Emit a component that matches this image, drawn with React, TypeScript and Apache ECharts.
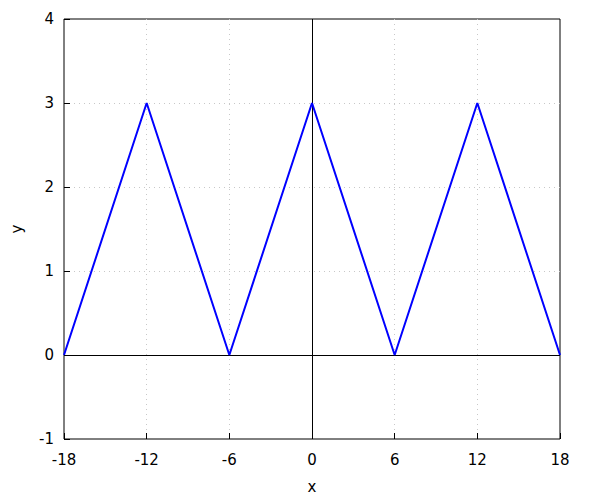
import React, { useEffect, useRef } from "react";
import * as echarts from "echarts";

const xValues = [-18, -12, -6, 0, 6, 12, 18];
const yValues = [0, 3, 0, 3, 0, 3, 0];
const xTicks = [-18, -12, -6, 0, 6, 12, 18];
const yTicks = [-1, 0, 1, 2, 3, 4];

export default function App() {
  const ref = useRef<HTMLDivElement>(null);
  useEffect(() => {
    if (!ref.current) return;
    const chart = echarts.init(ref.current, undefined, { renderer: "svg" });
    const font = "DejaVu Sans";
    chart.setOption({
      animation: false,
      backgroundColor: "#ffffff",
      grid: {
        left: 64,
        right: 40,
        top: 19,
        bottom: 61,
        show: true,
        borderColor: "#000000",
        borderWidth: 1,
        backgroundColor: "transparent",
      },
      xAxis: {
        type: "value",
        min: -18,
        max: 18,
        interval: 6,
        name: "x",
        nameLocation: "middle",
        nameGap: 40,
        nameTextStyle: { fontFamily: font, fontSize: 15, color: "#000" },
        axisLine: { show: false, onZero: false },
        axisTick: { show: true, inside: true, length: 6, lineStyle: { color: "#000" } },
        axisLabel: {
          fontFamily: font,
          fontSize: 15,
          color: "#000",
          margin: 13,
          formatter: (v: number) => (xTicks.includes(v) ? String(v) : ""),
        },
        splitLine: {
          show: true,
          showMinLine: false,
          showMaxLine: false,
          lineStyle: { color: "#c8c8c8", type: [1, 4], width: 1 },
        },
      },
      yAxis: {
        type: "value",
        min: -1,
        max: 4,
        interval: 1,
        name: "y",
        nameLocation: "middle",
        nameGap: 40,
        nameTextStyle: { fontFamily: font, fontSize: 15, color: "#000" },
        axisLine: { show: false, onZero: false },
        axisTick: { show: true, inside: true, length: 6, lineStyle: { color: "#000" } },
        axisLabel: {
          fontFamily: font,
          fontSize: 15,
          color: "#000",
          margin: 10,
          formatter: (v: number) => (yTicks.includes(v) ? String(v) : ""),
        },
        splitLine: {
          show: true,
          showMinLine: false,
          showMaxLine: false,
          lineStyle: { color: "#c8c8c8", type: [1, 4], width: 1 },
        },
      },
      series: [
        {
          type: "line",
          data: xValues.map((x, i) => [x, yValues[i]]),
          showSymbol: false,
          symbol: "none",
          lineStyle: { color: "#0000ff", width: 2 },
          z: 3,
          markLine: {
            silent: true,
            symbol: "none",
            label: { show: false },
            lineStyle: { color: "#000000", width: 1, type: "solid" },
            data: [{ xAxis: 0 }, { yAxis: 0 }],
            z: 2,
          },
        },
      ],
    });
    return () => chart.dispose();
  }, []);
  return (
    <div
      ref={ref}
      style={{ position: "fixed", left: 0, top: 0, width: 600, height: 500 }}
    />
  );
}
